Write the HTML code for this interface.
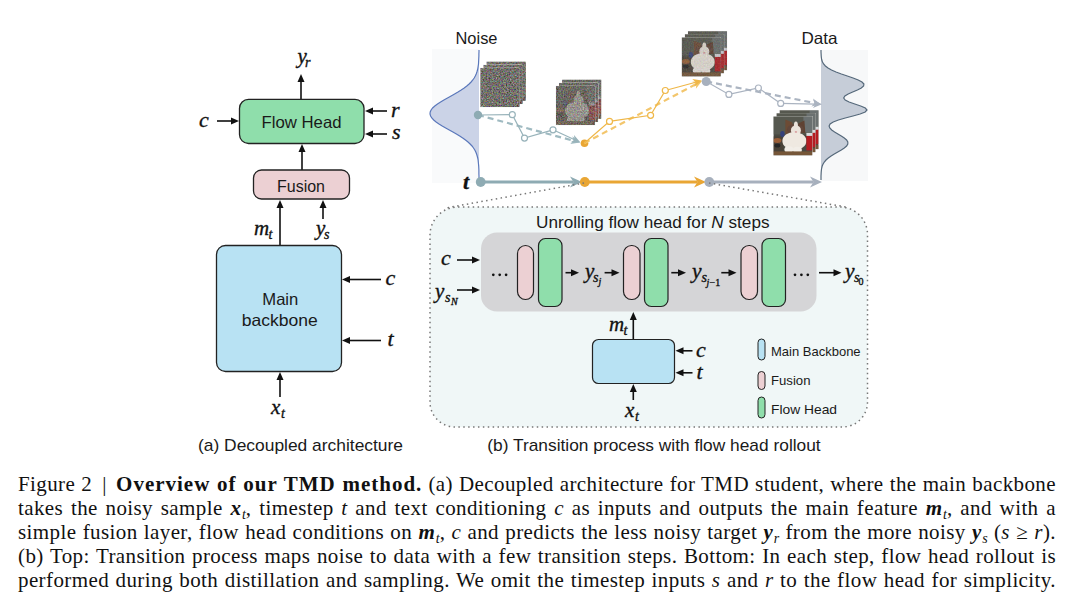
<!DOCTYPE html>
<html><head><meta charset="utf-8">
<style>
html,body{margin:0;padding:0;background:#fff;}
body{width:1080px;height:598px;position:relative;overflow:hidden;}
svg{position:absolute;left:0;top:0;}
.sans{font-family:"Liberation Sans",sans-serif;fill:#1a1a1a;}
.m{font-family:"Liberation Serif",serif;font-style:italic;fill:#111;stroke:#111;stroke-width:0.35px;}
.ln{position:absolute;left:18px;width:1038px;height:24px;font-family:"Liberation Serif",serif;font-size:21px;line-height:24px;color:#111;text-align:justify;text-align-last:justify;letter-spacing:0.4px;white-space:nowrap;}
.ln i{font-style:italic;}
.ln b{font-weight:bold;letter-spacing:1px;}
.ln sub{font-size:14px;vertical-align:baseline;position:relative;top:4px;letter-spacing:0;}
</style></head>
<body>
<svg width="1080" height="598" viewBox="0 0 1080 598">

<defs>
<filter id="nzA" x="0" y="0" width="39" height="39" filterUnits="userSpaceOnUse" primitiveUnits="userSpaceOnUse" color-interpolation-filters="sRGB">
  <feTurbulence type="fractalNoise" baseFrequency="0.7" numOctaves="2" seed="7" result="t"/>
  <feColorMatrix in="t" type="matrix" values="0.7 0.12 0.12 0 -0.02  0.12 0.7 0.12 0 -0.03  0.12 0.12 0.7 0 -0.05  0 0 0 0 1" result="c"/>
  <feGaussianBlur in="c" stdDeviation="0.45"/>
</filter>
<g id="cat">
  <rect width="39" height="39" fill="#4a4a42"/>
  <rect x="0" y="0" width="39" height="18" fill="#57594f"/>
  <rect x="30" y="0" width="9" height="16" fill="#6a7070"/>
  <rect x="0" y="20" width="10" height="16" fill="#4a4238"/>
  <ellipse cx="9" cy="17.5" rx="2.2" ry="3" fill="#34407a"/>
  <ellipse cx="4" cy="24" rx="4" ry="2.5" fill="#9a5e38"/>
  <ellipse cx="4" cy="29" rx="3" ry="2" fill="#262626"/>
  <path d="M12,3 L19,6 L20,15 L12,18 Z" fill="#6d4c36"/>
  <path d="M31,4 L25,7 L25,15 L32,17 Z" fill="#5e4232"/>
  <ellipse cx="22" cy="13" rx="8.5" ry="5.5" fill="#62463a"/>
  <ellipse cx="22.5" cy="14" rx="5" ry="5" fill="#ebe4dc"/>
  <ellipse cx="22.5" cy="9" rx="2" ry="4" fill="#ebe4dc"/>
  <ellipse cx="21" cy="24.5" rx="12" ry="9" fill="#efe9e1"/>
  <ellipse cx="22.5" cy="15.5" rx="1.2" ry="0.9" fill="#d9a0a0"/>
  <ellipse cx="15.5" cy="33" rx="4.5" ry="3.2" fill="#f2eee8"/>
  <ellipse cx="24" cy="33.5" rx="4.5" ry="3.2" fill="#f2eee8"/>
  <rect x="33" y="19" width="6" height="15" fill="#b51f22"/>
  <rect x="33" y="16.5" width="6" height="3" fill="#d8dcdf"/>
  <rect x="0" y="35" width="39" height="4" fill="#765638"/>
</g>
<filter id="blr" x="-10%" y="-10%" width="120%" height="120%"><feGaussianBlur stdDeviation="0.7"/></filter><filter id="blr2" x="-10%" y="-10%" width="120%" height="120%"><feGaussianBlur stdDeviation="0.4"/></filter>
</defs>


<g>
<line x1="301.00" y1="99.00" x2="301.00" y2="81.00" stroke="#111" stroke-width="1.6"/><path d="M301.00,74.00 L304.50,82.00 L297.50,82.00 Z" fill="#111"/><line x1="217.00" y1="121.00" x2="232.00" y2="121.00" stroke="#111" stroke-width="1.6"/><path d="M239.00,121.00 L231.00,124.50 L231.00,117.50 Z" fill="#111"/><line x1="387.00" y1="111.00" x2="372.00" y2="111.00" stroke="#111" stroke-width="1.6"/><path d="M365.00,111.00 L373.00,107.50 L373.00,114.50 Z" fill="#111"/><line x1="387.00" y1="134.00" x2="372.00" y2="134.00" stroke="#111" stroke-width="1.6"/><path d="M365.00,134.00 L373.00,130.50 L373.00,137.50 Z" fill="#111"/><line x1="302.00" y1="170.00" x2="302.00" y2="151.00" stroke="#111" stroke-width="1.6"/><path d="M302.00,144.00 L305.50,152.00 L298.50,152.00 Z" fill="#111"/><line x1="280.00" y1="245.00" x2="280.00" y2="207.00" stroke="#111" stroke-width="1.6"/><path d="M280.00,200.00 L283.50,208.00 L276.50,208.00 Z" fill="#111"/><line x1="323.00" y1="219.00" x2="323.00" y2="207.00" stroke="#111" stroke-width="1.6"/><path d="M323.00,200.00 L326.50,208.00 L319.50,208.00 Z" fill="#111"/><line x1="381.00" y1="279.50" x2="349.00" y2="279.50" stroke="#111" stroke-width="1.6"/><path d="M342.00,279.50 L350.00,276.00 L350.00,283.00 Z" fill="#111"/><line x1="381.00" y1="340.50" x2="349.00" y2="340.50" stroke="#111" stroke-width="1.6"/><path d="M342.00,340.50 L350.00,337.00 L350.00,344.00 Z" fill="#111"/><line x1="280.00" y1="397.00" x2="280.00" y2="379.00" stroke="#111" stroke-width="1.6"/><path d="M280.00,372.00 L283.50,380.00 L276.50,380.00 Z" fill="#111"/>
</g>
<rect x="239.5" y="99.3" width="124.5" height="44.2" rx="9" fill="#8fdeab" stroke="#222" stroke-width="1.3"/>
<rect x="253.5" y="170" width="96" height="29" rx="8" fill="#ecd0d3" stroke="#222" stroke-width="1.3"/>
<rect x="216.5" y="245.5" width="125" height="126" rx="9" fill="#b8e2f3" stroke="#222" stroke-width="1.3"/>
<text class="sans" x="301.5" y="128" font-size="16.5" text-anchor="middle" textLength="80" lengthAdjust="spacingAndGlyphs">Flow Head</text>
<text class="sans" x="301" y="191.5" font-size="16" text-anchor="middle" textLength="48" lengthAdjust="spacingAndGlyphs">Fusion</text>
<text class="sans" x="280.3" y="304.6" font-size="16.5" text-anchor="middle" textLength="36" lengthAdjust="spacingAndGlyphs">Main</text>
<text class="sans" x="279.7" y="326.4" font-size="16.5" text-anchor="middle" textLength="76" lengthAdjust="spacingAndGlyphs">backbone</text>
<text class="sans" x="198" y="450.5" font-size="17" textLength="205" lengthAdjust="spacingAndGlyphs">(a) Decoupled architecture</text>
<text class="m" x="297.5" y="63" font-size="21">y</text><text class="m" x="305" y="67" font-size="14">r</text>
<text class="m" x="199" y="126.5" font-size="22">c</text>
<text class="m" x="391" y="116.5" font-size="22">r</text>
<text class="m" x="392" y="139" font-size="22">s</text>
<text class="m" x="254" y="235" font-size="21">m</text><text class="m" x="268.5" y="239" font-size="14">t</text>
<text class="m" x="316" y="235" font-size="21">y</text><text class="m" x="324" y="239" font-size="14">s</text>
<text class="m" x="385.5" y="285" font-size="22">c</text>
<text class="m" x="387.5" y="346" font-size="22">t</text>
<text class="m" x="271" y="414" font-size="21">x</text><text class="m" x="281" y="418" font-size="14">t</text>


<rect x="432" y="49" width="47" height="134" fill="#f9fafb"/>
<rect x="821" y="50" width="47" height="131" fill="#f7f8f9"/>
<path d="M479.0,50.0 L479.0,52.0 L478.9,54.0 L478.9,56.0 L478.8,58.0 L478.7,60.0 L478.6,62.0 L478.5,64.0 L478.2,66.0 L477.9,68.0 L477.5,70.0 L476.9,72.0 L476.2,74.0 L475.3,76.0 L474.2,78.0 L472.8,80.0 L471.1,82.0 L469.1,84.0 L466.8,86.0 L464.2,88.0 L461.2,90.0 L458.0,92.0 L454.6,94.0 L451.1,96.0 L447.5,98.0 L443.9,100.0 L440.6,102.0 L437.5,104.0 L434.8,106.0 L432.6,108.0 L431.1,110.0 L430.2,112.0 L430.0,114.0 L430.6,116.0 L431.8,118.0 L433.7,120.0 L436.1,122.0 L439.0,124.0 L442.2,126.0 L445.7,128.0 L449.3,130.0 L452.9,132.0 L456.4,134.0 L459.7,136.0 L462.7,138.0 L465.5,140.0 L468.0,142.0 L470.1,144.0 L472.0,146.0 L473.5,148.0 L474.8,150.0 L475.8,152.0 L476.6,154.0 L477.2,156.0 L477.7,158.0 L478.1,160.0 L478.3,162.0 L478.5,164.0 L478.7,166.0 L478.8,168.0 L478.9,170.0 L478.9,172.0 L478.9,174.0 L479.0,176.0 L479.0,178.0 L479.0,180.0 L479,181 L479,50 Z" fill="#cbd3e7"/>
<path d="M479.0,50.0 L479.0,52.0 L478.9,54.0 L478.9,56.0 L478.8,58.0 L478.7,60.0 L478.6,62.0 L478.5,64.0 L478.2,66.0 L477.9,68.0 L477.5,70.0 L476.9,72.0 L476.2,74.0 L475.3,76.0 L474.2,78.0 L472.8,80.0 L471.1,82.0 L469.1,84.0 L466.8,86.0 L464.2,88.0 L461.2,90.0 L458.0,92.0 L454.6,94.0 L451.1,96.0 L447.5,98.0 L443.9,100.0 L440.6,102.0 L437.5,104.0 L434.8,106.0 L432.6,108.0 L431.1,110.0 L430.2,112.0 L430.0,114.0 L430.6,116.0 L431.8,118.0 L433.7,120.0 L436.1,122.0 L439.0,124.0 L442.2,126.0 L445.7,128.0 L449.3,130.0 L452.9,132.0 L456.4,134.0 L459.7,136.0 L462.7,138.0 L465.5,140.0 L468.0,142.0 L470.1,144.0 L472.0,146.0 L473.5,148.0 L474.8,150.0 L475.8,152.0 L476.6,154.0 L477.2,156.0 L477.7,158.0 L478.1,160.0 L478.3,162.0 L478.5,164.0 L478.7,166.0 L478.8,168.0 L478.9,170.0 L478.9,172.0 L478.9,174.0 L479.0,176.0 L479.0,178.0 L479.0,180.0" fill="none" stroke="#5b78bb" stroke-width="1.2"/>
<path d="M821.0,50.0 L821.0,52.0 L821.1,54.0 L821.2,56.0 L821.4,58.0 L821.8,60.0 L822.5,62.0 L823.6,64.0 L825.4,66.0 L828.0,68.0 L831.5,70.0 L836.0,72.0 L841.4,74.0 L847.3,76.0 L853.1,78.0 L858.2,80.0 L862.0,82.0 L863.9,84.0 L863.6,86.0 L861.3,88.0 L857.4,90.0 L852.7,92.0 L848.2,94.0 L844.9,96.0 L843.7,98.0 L845.2,100.0 L849.1,102.0 L854.8,104.0 L860.7,106.0 L865.3,108.0 L867.0,110.0 L865.2,112.0 L860.1,114.0 L853.0,116.0 L845.3,118.0 L838.4,120.0 L833.2,122.0 L830.1,124.0 L829.1,126.0 L829.8,128.0 L831.7,130.0 L834.6,132.0 L837.9,134.0 L841.3,136.0 L844.3,138.0 L846.6,140.0 L847.8,142.0 L847.8,144.0 L846.6,146.0 L844.3,148.0 L841.3,150.0 L837.8,152.0 L834.3,154.0 L831.1,156.0 L828.3,158.0 L826.0,160.0 L824.3,162.0 L823.1,164.0 L822.2,166.0 L821.7,168.0 L821.4,170.0 L821.2,172.0 L821.1,174.0 L821.0,176.0 L821.0,178.0 L821.0,180.0 L821,181 L821,50 Z" fill="#c6cdd8"/>
<path d="M821.0,50.0 L821.0,52.0 L821.1,54.0 L821.2,56.0 L821.4,58.0 L821.8,60.0 L822.5,62.0 L823.6,64.0 L825.4,66.0 L828.0,68.0 L831.5,70.0 L836.0,72.0 L841.4,74.0 L847.3,76.0 L853.1,78.0 L858.2,80.0 L862.0,82.0 L863.9,84.0 L863.6,86.0 L861.3,88.0 L857.4,90.0 L852.7,92.0 L848.2,94.0 L844.9,96.0 L843.7,98.0 L845.2,100.0 L849.1,102.0 L854.8,104.0 L860.7,106.0 L865.3,108.0 L867.0,110.0 L865.2,112.0 L860.1,114.0 L853.0,116.0 L845.3,118.0 L838.4,120.0 L833.2,122.0 L830.1,124.0 L829.1,126.0 L829.8,128.0 L831.7,130.0 L834.6,132.0 L837.9,134.0 L841.3,136.0 L844.3,138.0 L846.6,140.0 L847.8,142.0 L847.8,144.0 L846.6,146.0 L844.3,148.0 L841.3,150.0 L837.8,152.0 L834.3,154.0 L831.1,156.0 L828.3,158.0 L826.0,160.0 L824.3,162.0 L823.1,164.0 L822.2,166.0 L821.7,168.0 L821.4,170.0 L821.2,172.0 L821.1,174.0 L821.0,176.0 L821.0,178.0 L821.0,180.0" fill="none" stroke="#56697b" stroke-width="1.2"/>
<text class="sans" x="455.5" y="43.8" font-size="16.5" textLength="42" lengthAdjust="spacingAndGlyphs">Noise</text>
<text class="sans" x="801.5" y="44" font-size="16.5" textLength="36" lengthAdjust="spacingAndGlyphs">Data</text>
<rect x="486.7" y="61.8" width="39" height="39" fill="none" stroke="#e8e8e8" stroke-width="0.5"/><svg x="486.7" y="61.8" width="39" height="39" viewBox="0 0 39 39"><rect width="39" height="39" fill="#777"/><rect width="39" height="39" filter="url(#nzA)"/></svg><rect x="483.6" y="64.9" width="39" height="39" fill="none" stroke="#e8e8e8" stroke-width="0.5"/><svg x="483.6" y="64.9" width="39" height="39" viewBox="0 0 39 39"><rect width="39" height="39" fill="#777"/><rect width="39" height="39" filter="url(#nzA)"/></svg><rect x="480.5" y="68.0" width="39" height="39" fill="none" stroke="#e8e8e8" stroke-width="0.5"/><svg x="480.5" y="68.0" width="39" height="39" viewBox="0 0 39 39"><rect width="39" height="39" fill="#777"/><rect width="39" height="39" filter="url(#nzA)"/></svg><rect x="562.2" y="79.8" width="39" height="39" fill="none" stroke="#e8e8e8" stroke-width="0.5"/><svg x="562.2" y="79.8" width="39" height="39" viewBox="0 0 39 39"><g filter="url(#blr)"><use href="#cat"/></g><rect width="39" height="39" filter="url(#nzA)" opacity="0.7"/></svg><rect x="559.1" y="82.9" width="39" height="39" fill="none" stroke="#e8e8e8" stroke-width="0.5"/><svg x="559.1" y="82.9" width="39" height="39" viewBox="0 0 39 39"><g filter="url(#blr)"><use href="#cat"/></g><rect width="39" height="39" filter="url(#nzA)" opacity="0.7"/></svg><rect x="556.0" y="86.0" width="39" height="39" fill="none" stroke="#e8e8e8" stroke-width="0.5"/><svg x="556.0" y="86.0" width="39" height="39" viewBox="0 0 39 39"><g filter="url(#blr)"><use href="#cat"/></g><rect width="39" height="39" filter="url(#nzA)" opacity="0.7"/></svg><rect x="688.0" y="31.2" width="39" height="39" fill="none" stroke="#e8e8e8" stroke-width="0.5"/><svg x="688.0" y="31.2" width="39" height="39" viewBox="0 0 39 39"><g filter="url(#blr)"><use href="#cat"/></g><rect width="39" height="39" filter="url(#nzA)" opacity="0.22"/></svg><rect x="684.9" y="34.3" width="39" height="39" fill="none" stroke="#e8e8e8" stroke-width="0.5"/><svg x="684.9" y="34.3" width="39" height="39" viewBox="0 0 39 39"><g filter="url(#blr)"><use href="#cat"/></g><rect width="39" height="39" filter="url(#nzA)" opacity="0.22"/></svg><rect x="681.8" y="37.4" width="39" height="39" fill="none" stroke="#e8e8e8" stroke-width="0.5"/><svg x="681.8" y="37.4" width="39" height="39" viewBox="0 0 39 39"><g filter="url(#blr)"><use href="#cat"/></g><rect width="39" height="39" filter="url(#nzA)" opacity="0.22"/></svg><rect x="779.6" y="110.2" width="39" height="39" fill="none" stroke="#e8e8e8" stroke-width="0.5"/><svg x="779.6" y="110.2" width="39" height="39" viewBox="0 0 39 39"><g filter="url(#blr2)"><use href="#cat"/></g></svg><rect x="776.5" y="113.3" width="39" height="39" fill="none" stroke="#e8e8e8" stroke-width="0.5"/><svg x="776.5" y="113.3" width="39" height="39" viewBox="0 0 39 39"><g filter="url(#blr2)"><use href="#cat"/></g></svg><rect x="773.4" y="116.4" width="39" height="39" fill="none" stroke="#e8e8e8" stroke-width="0.5"/><svg x="773.4" y="116.4" width="39" height="39" viewBox="0 0 39 39"><g filter="url(#blr2)"><use href="#cat"/></g></svg>
<circle cx="584.5" cy="143.2" r="3.8" fill="#e9a634"/><line x1="478.00" y1="115.00" x2="573.72" y2="140.81" stroke="#9fbac1" stroke-width="2.2" stroke-dasharray="6,4"/><path d="M580.00,142.50 L570.27,144.02 L573.72,140.81 L572.35,136.30 Z" fill="#9fbac1"/><path d="M478.0,115.0 L512.3,114.7 L524.5,138.1 L553.0,129.8" fill="none" stroke="#98b3ba" stroke-width="1.2"/><line x1="553.00" y1="129.80" x2="574.60" y2="139.77" stroke="#98b3ba" stroke-width="1.2"/><path d="M580.50,142.50 L570.65,142.36 L574.60,139.77 L574.01,135.10 Z" fill="#98b3ba"/><circle cx="512.3" cy="114.7" r="3" fill="#fff" stroke="#98b3ba" stroke-width="1.2"/><circle cx="524.5" cy="138.1" r="3" fill="#fff" stroke="#98b3ba" stroke-width="1.2"/><circle cx="553.0" cy="129.8" r="3" fill="#fff" stroke="#98b3ba" stroke-width="1.2"/><circle cx="478" cy="115" r="4.2" fill="#8eabb3"/><line x1="584.30" y1="143.20" x2="696.25" y2="84.04" stroke="#f3c66c" stroke-width="2.2" stroke-dasharray="6,4"/><path d="M702.00,81.00 L695.91,88.74 L696.25,84.04 L692.17,81.67 Z" fill="#f3c66c"/><path d="M584.3,143.2 L609.5,121.4 L650.6,115.3 L665.3,90.5" fill="none" stroke="#efb748" stroke-width="1.2"/><line x1="665.30" y1="90.50" x2="695.73" y2="82.21" stroke="#efb748" stroke-width="1.2"/><path d="M702.00,80.50 L694.37,86.73 L695.73,82.21 L692.27,79.01 Z" fill="#efb748"/><circle cx="609.5" cy="121.4" r="3" fill="#fff" stroke="#efb748" stroke-width="1.2"/><circle cx="650.6" cy="115.3" r="3" fill="#fff" stroke="#efb748" stroke-width="1.2"/><circle cx="665.3" cy="90.5" r="3" fill="#fff" stroke="#efb748" stroke-width="1.2"/><line x1="706.20" y1="81.50" x2="814.62" y2="103.03" stroke="#abb4c1" stroke-width="2.2" stroke-dasharray="6,4"/><path d="M821.00,104.30 L811.39,106.47 L814.62,103.03 L812.95,98.62 Z" fill="#abb4c1"/><path d="M706.2,81.5 L728.9,94.4 L758.4,88.0 L780.7,103.4" fill="none" stroke="#abb4c1" stroke-width="1.2"/><line x1="780.70" y1="103.40" x2="815.50" y2="104.16" stroke="#abb4c1" stroke-width="1.2"/><path d="M822.00,104.30 L812.91,108.10 L815.50,104.16 L813.09,100.10 Z" fill="#abb4c1"/><circle cx="728.9" cy="94.4" r="3" fill="#fff" stroke="#abb4c1" stroke-width="1.2"/><circle cx="758.4" cy="88.0" r="3" fill="#fff" stroke="#abb4c1" stroke-width="1.2"/><circle cx="780.7" cy="103.4" r="3" fill="#fff" stroke="#abb4c1" stroke-width="1.2"/><circle cx="706.2" cy="81.5" r="4.5" fill="#a7b0bd"/>
<!-- t axis -->
<line x1="481.00" y1="182.00" x2="573.50" y2="182.00" stroke="#8eabb3" stroke-width="2.9"/><path d="M582.00,182.00 L570.00,187.50 L573.50,182.00 L570.00,176.50 Z" fill="#8eabb3"/><line x1="585.00" y1="182.00" x2="697.50" y2="182.00" stroke="#e9a634" stroke-width="2.9"/><path d="M706.00,182.00 L694.00,187.50 L697.50,182.00 L694.00,176.50 Z" fill="#e9a634"/><line x1="709.00" y1="182.00" x2="813.50" y2="182.00" stroke="#a7b0bd" stroke-width="2.9"/><path d="M822.00,182.00 L810.00,187.50 L813.50,182.00 L810.00,176.50 Z" fill="#a7b0bd"/><circle cx="480.7" cy="182" r="4.9" fill="#8eabb3"/><circle cx="584.8" cy="182" r="4.9" fill="#e9a634"/><circle cx="709.3" cy="182" r="4.9" fill="#a7b0bd"/>
<text class="m" x="463" y="188.5" font-size="22" style="font-weight:bold">t</text>


<path d="M458,207 L840,207 A27.5,27.5 0 0 1 867.5,234.5 L867.5,402 A25,25 0 0 1 842.5,427 L455,427 A25,25 0 0 1 430,402 L430,235 A28,28 0 0 1 458,207 Z" fill="#f0f7f7" stroke="#777" stroke-width="1.5" stroke-dasharray="1.5,3.4"/>
<line x1="584" y1="183" x2="446" y2="208" stroke="#777" stroke-width="1.5" stroke-dasharray="1.5,3.4"/>
<line x1="709" y1="183" x2="846" y2="207" stroke="#777" stroke-width="1.5" stroke-dasharray="1.5,3.4"/>
<rect x="481" y="232.5" width="335.5" height="79" rx="16" fill="#d5d5d7"/>
<text class="sans" x="536" y="227.5" font-size="17" textLength="233.5" lengthAdjust="spacingAndGlyphs">Unrolling flow head for <tspan font-style="italic">N</tspan> steps</text>
<rect x="517.5" y="245.5" width="16" height="54" rx="8" fill="#ecd0d3" stroke="#222" stroke-width="1.2"/>
<rect x="538.5" y="238.5" width="23.5" height="68" rx="7" fill="#8fdeab" stroke="#222" stroke-width="1.2"/>
<rect x="623.5" y="245.5" width="16.5" height="54" rx="8" fill="#ecd0d3" stroke="#222" stroke-width="1.2"/>
<rect x="644.5" y="238.5" width="23.5" height="68" rx="7" fill="#8fdeab" stroke="#222" stroke-width="1.2"/>
<rect x="741" y="245.5" width="16.5" height="54" rx="8" fill="#ecd0d3" stroke="#222" stroke-width="1.2"/>
<rect x="762" y="238.5" width="23.5" height="68" rx="7" fill="#8fdeab" stroke="#222" stroke-width="1.2"/>
<g fill="#111"><circle cx="493.3" cy="274.8" r="1.35"/><circle cx="499.7" cy="274.8" r="1.35"/><circle cx="506.1" cy="274.8" r="1.35"/></g>
<g fill="#111"><circle cx="795" cy="274.8" r="1.35"/><circle cx="801.4" cy="274.8" r="1.35"/><circle cx="807.8" cy="274.8" r="1.35"/></g>
<line x1="457.00" y1="260.00" x2="473.00" y2="260.00" stroke="#111" stroke-width="1.6"/><path d="M480.00,260.00 L472.00,263.50 L472.00,256.50 Z" fill="#111"/><line x1="457.00" y1="290.00" x2="473.00" y2="290.00" stroke="#111" stroke-width="1.6"/><path d="M480.00,290.00 L472.00,293.50 L472.00,286.50 Z" fill="#111"/><line x1="565.50" y1="272.70" x2="572.00" y2="272.70" stroke="#111" stroke-width="1.6"/><path d="M579.00,272.70 L571.00,276.20 L571.00,269.20 Z" fill="#111"/><line x1="604.60" y1="272.70" x2="612.50" y2="272.70" stroke="#111" stroke-width="1.6"/><path d="M619.50,272.70 L611.50,276.20 L611.50,269.20 Z" fill="#111"/><line x1="671.30" y1="272.70" x2="679.00" y2="272.70" stroke="#111" stroke-width="1.6"/><path d="M686.00,272.70 L678.00,276.20 L678.00,269.20 Z" fill="#111"/><line x1="721.30" y1="272.70" x2="729.50" y2="272.70" stroke="#111" stroke-width="1.6"/><path d="M736.50,272.70 L728.50,276.20 L728.50,269.20 Z" fill="#111"/><line x1="819.00" y1="272.70" x2="834.50" y2="272.70" stroke="#111" stroke-width="1.6"/><path d="M841.50,272.70 L833.50,276.20 L833.50,269.20 Z" fill="#111"/><line x1="633.30" y1="339.00" x2="633.30" y2="319.00" stroke="#111" stroke-width="1.6"/><path d="M633.30,312.00 L636.80,320.00 L629.80,320.00 Z" fill="#111"/><line x1="692.50" y1="350.80" x2="682.50" y2="350.80" stroke="#111" stroke-width="1.6"/><path d="M675.50,350.80 L683.50,347.30 L683.50,354.30 Z" fill="#111"/><line x1="692.50" y1="372.80" x2="682.50" y2="372.80" stroke="#111" stroke-width="1.6"/><path d="M675.50,372.80 L683.50,369.30 L683.50,376.30 Z" fill="#111"/><line x1="633.30" y1="400.00" x2="633.30" y2="391.00" stroke="#111" stroke-width="1.6"/><path d="M633.30,384.00 L636.80,392.00 L629.80,392.00 Z" fill="#111"/>
<text class="m" x="441" y="264.5" font-size="22">c</text>
<text class="m" x="435" y="298" font-size="21">y</text><text class="m" x="445" y="302" font-size="14">s</text><text class="m" x="451" y="305" font-size="10">N</text>
<text class="m" x="585" y="278" font-size="21">y</text><text class="m" x="593" y="282" font-size="14">s</text><text class="m" x="598.5" y="285" font-size="10">j</text>
<text class="m" x="692" y="278" font-size="21.5">y</text><text class="m" x="701.5" y="282" font-size="14">s</text><text class="m" x="706.5" y="285.5" font-size="10">j</text><text class="m" x="709.5" y="285.5" font-size="10" style="font-style:normal">−1</text>
<text class="m" x="845" y="278" font-size="21.5">y</text><text class="m" x="854" y="282" font-size="14">s</text><text class="m" x="858.5" y="285" font-size="10" style="font-style:normal">0</text>
<rect x="592.5" y="339.5" width="82" height="44" rx="6" fill="#b8e2f3" stroke="#222" stroke-width="1.2"/>
<text class="m" x="609" y="331" font-size="21">m</text><text class="m" x="623.5" y="335" font-size="14">t</text>
<text class="m" x="696" y="356.5" font-size="22">c</text>
<text class="m" x="696.5" y="378.5" font-size="22">t</text>
<text class="m" x="625" y="417" font-size="21">x</text><text class="m" x="635" y="421" font-size="14">t</text>
<rect x="758" y="339" width="7" height="21" rx="3.5" fill="#b8e2f3" stroke="#222" stroke-width="1"/>
<rect x="758" y="371.5" width="7" height="18" rx="3.5" fill="#ecd0d3" stroke="#222" stroke-width="1"/>
<rect x="758" y="397" width="7" height="21" rx="3.5" fill="#8fdeab" stroke="#222" stroke-width="1"/>
<text class="sans" x="771" y="355.5" font-size="13" textLength="89.6" lengthAdjust="spacingAndGlyphs">Main Backbone</text>
<text class="sans" x="771" y="384.7" font-size="13" textLength="39.5" lengthAdjust="spacingAndGlyphs">Fusion</text>
<text class="sans" x="771" y="413.9" font-size="13" textLength="66" lengthAdjust="spacingAndGlyphs">Flow Head</text>
<text class="sans" x="487.3" y="451" font-size="17" textLength="333.4" lengthAdjust="spacingAndGlyphs">(b) Transition process with flow head rollout</text>

</svg>

<div class="ln" style="top:472px">Figure 2 <span style="margin-left:4px;margin-right:3px">|</span> <b>Overview of our TMD method.</b> (a) Decoupled architecture for TMD student, where the main backbone</div>
<div class="ln" style="top:496px">takes the noisy sample <b><i>x</i></b><sub><i>t</i></sub>, timestep <i>t</i> and text conditioning <i>c</i> as inputs and outputs the main feature <b><i>m</i></b><sub><i>t</i></sub>, and with a</div>
<div class="ln" style="top:520px">simple fusion layer, flow head conditions on <b><i>m</i></b><sub><i>t</i></sub>, <i>c</i> and predicts the less noisy target <b><i>y</i></b><sub><i>r</i></sub> from the more noisy <b><i>y</i></b><sub><i>s</i></sub> (<i>s</i> ≥ <i>r</i>).</div>
<div class="ln" style="top:544px">(b) Top: Transition process maps noise to data with a few transition steps. Bottom: In each step, flow head rollout is</div>
<div class="ln" style="top:568px">performed during both distillation and sampling. We omit the timestep inputs <i>s</i> and <i>r</i> to the flow head for simplicity.</div>

</body></html>
